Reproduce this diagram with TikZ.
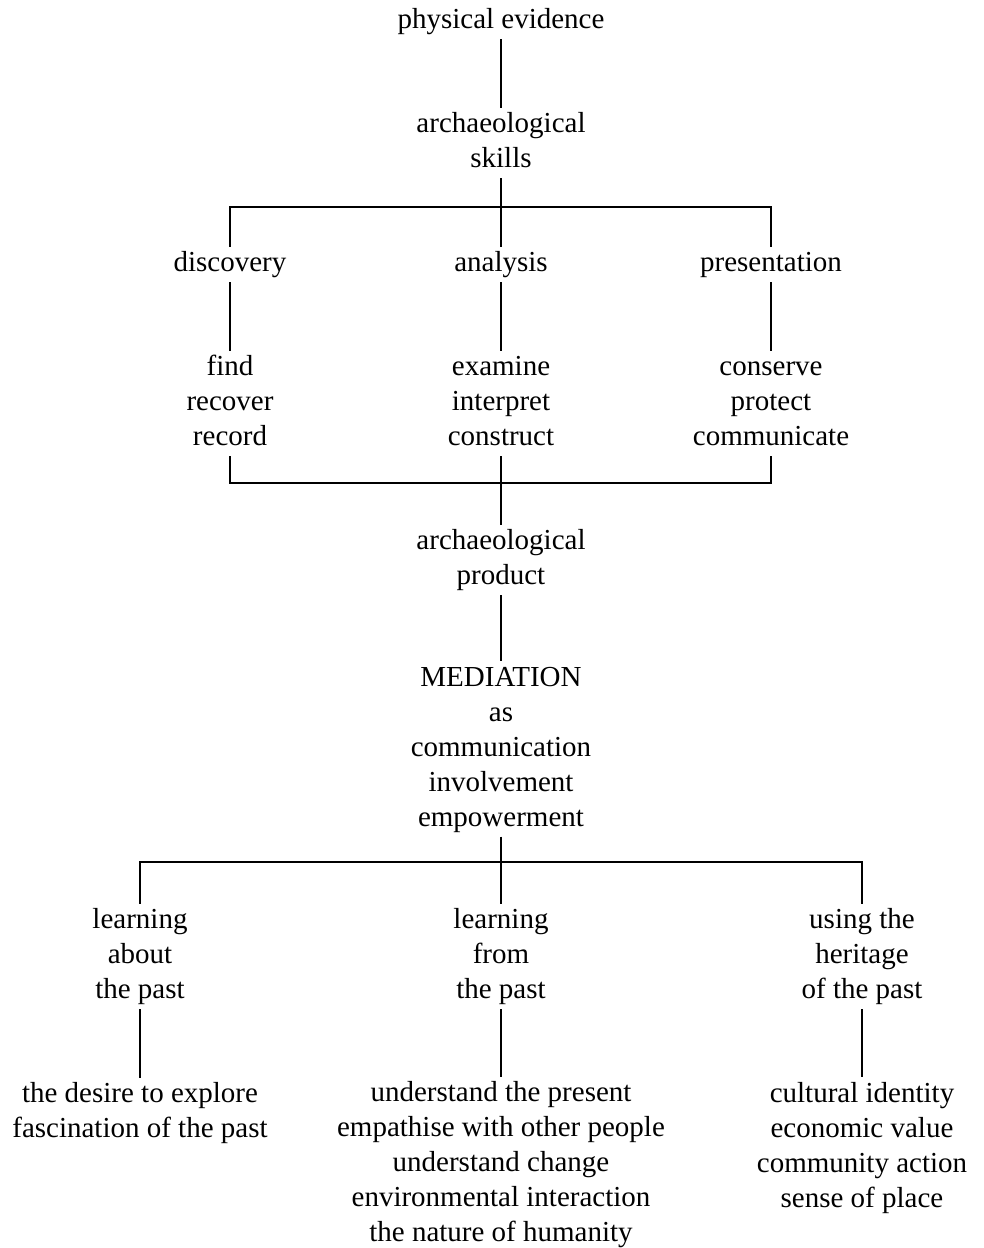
\documentclass[tikz,border=0pt]{standalone}
\usepackage{fontspec}
\setmainfont{Liberation Serif}
\usepackage{tikz}

\begin{document}
\begin{tikzpicture}[
      x=1pt, y=-1pt,
      term/.style={
        text width=360pt,
        align=flush center,
        inner sep=0pt,
        yshift=-2.5pt,
        font=\fontsize{29}{35}\selectfont,
        execute at begin node=\strut,
        execute at end node=\strut
      },
      link/.style={line width=2.1pt}
    ]
    \useasboundingbox (0,0) rectangle (983,1248);

    \node[term] (evid) at (501,19) {physical evidence};
    \node[term] (skills) at (501,140.5) {archaeological\\skills};

    \node[term] (disc) at (230,262) {discovery};
    \node[term] (anal) at (501,262) {analysis};
    \node[term] (pres) at (771,262) {presentation};

    \node[term] (find) at (230,401) {find\\recover\\record};
    \node[term] (exam) at (501,401) {examine\\interpret\\construct};
    \node[term] (cons) at (771,401) {conserve\\protect\\communicate};

    \node[term] (prod) at (501,557.5) {archaeological\\product};
    \node[term] (med) at (501,746.5) {MEDIATION\\as\\communication\\involvement\\empowerment};

    \node[term] (about) at (140,954) {learning\\about\\the past};
    \node[term] (from) at (501,954) {learning\\from\\the past};
    \node[term] (using) at (862,954) {using the\\heritage\\of the past};

    \node[term] (desire) at (140,1110.5) {the desire to explore\\fascination of the past};
    \node[term] (present) at (501,1162) {understand the present\\empathise with other people\\understand change\\environmental interaction\\the nature of humanity};
    \node[term] (identity) at (862,1145) {cultural identity\\economic value\\community action\\sense of place};

    % forks
    \coordinate (fork1) at (501,207);
    \coordinate (fork2) at (501,483);
    \coordinate (fork3) at (501,862);

    \draw[link] (evid) -- (skills);
    \draw[link] (skills) -- (anal);
    \draw[link] (disc) |- (fork1) -| (pres);

    \draw[link] (disc) -- (find);
    \draw[link] (anal) -- (exam);
    \draw[link] (pres) -- (cons);

    \draw[link] (find) |- (fork2) -| (cons);
    \draw[link] (exam) -- (prod);
    \draw[link] (prod) -- (med);

    \draw[link] (med) -- (from);
    \draw[link] (about) |- (fork3) -| (using);

    \draw[link] (about) -- (desire);
    \draw[link] (from) -- (present);
    \draw[link] (using) -- (identity);
  \end{tikzpicture}
\end{document}
